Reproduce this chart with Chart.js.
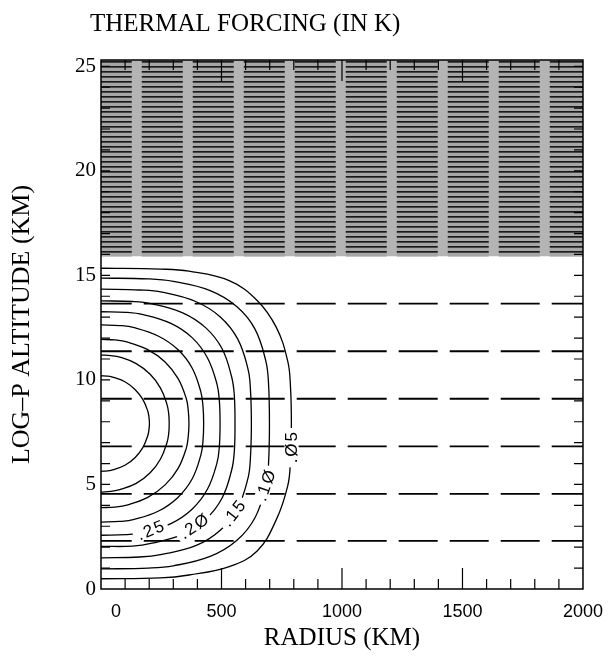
<!DOCTYPE html>
<html><head><meta charset="utf-8">
<script src="https://cdn.jsdelivr.net/npm/chart.js@4.4.1/dist/chart.umd.min.js"></script>
<style>html,body{margin:0;padding:0;background:#fff;}#wrap{width:615px;height:661px;}</style>
</head><body><div id="wrap"><canvas id="c" width="615" height="661"></canvas></div>
<script>
// ---- data ----
const titleText = 'THERMAL FORCING (IN K)';
const xTitle = 'RADIUS (KM)';
const yTitle = 'LOG–P ALTITUDE (KM)';
const xTickLabels = [0, 500, 1000, 1500, 2000];
const yTickLabels = [0, 5, 10, 15, 20, 25];
const xMinorTicks = [100,200,300,400,600,700,800,900,1100,1200,1300,1400,1600,1700,1800,1900];
const xMajorTicks = [500, 1000, 1500];
const yMinorTicks = [1,2,3,4,5,6,7,8,9,10,11,12,13,14,15,16,17,18,19,20,21,22,23,24,25];
const modelLevels = [2.3, 4.55, 6.82, 9.1, 11.37, 13.65];
const spongeBase = 15.92;
const spongeTop = 25.3;

const c45 = [[0,10.20],[26,10.18],[52,10.12],[101,9.90],[142,9.53],[174,9.06],[194,8.51],[199,8.22],[201,7.91],[199,7.61],[194,7.33],[174,6.77],[142,6.29],[101,5.93],[52,5.71],[26,5.65],[0,5.63]];
const c40 = [[0,11.19],[41,11.16],[78,11.09],[146,10.78],[204,10.27],[247,9.61],[274,8.82],[281,8.39],[283,7.91],[281,7.44],[274,7.01],[247,6.22],[204,5.56],[146,5.05],[78,4.75],[41,4.67],[0,4.63]];
const c35 = [[0,11.94],[57,11.91],[107,11.82],[194,11.45],[266,10.86],[320,10.06],[354,9.10],[362,8.55],[365,7.91],[362,7.29],[354,6.74],[320,5.77],[266,4.98],[194,4.38],[107,4.01],[57,3.92],[0,3.89]];
const c30 = [[0,12.63],[78,12.60],[138,12.50],[239,12.09],[319,11.45],[378,10.57],[414,9.44],[423,8.77],[426,7.91],[423,7.05],[414,6.39],[378,5.26],[319,4.38],[239,3.73],[138,3.33],[78,3.23],[0,3.20]];
const c25 = [[0,13.26],[103,13.23],[175,13.12],[290,12.70],[379,12.01],[442,11.05],[481,9.81],[491,9.03],[494,7.91],[491,6.80],[481,6.02],[442,4.78],[379,3.83],[290,3.13],[175,2.71],[103,2.60],[0,2.57]];
const c20 = [[0,13.78],[130,13.75],[212,13.64],[339,13.21],[434,12.50],[502,11.50],[542,10.15],[553,9.29],[556,7.91],[553,6.55],[542,5.68],[502,4.34],[434,3.33],[339,2.61],[212,2.19],[130,2.05],[0,2.04]];
const c15 = [[0,14.34],[160,14.30],[253,14.20],[393,13.75],[495,13.01],[567,11.96],[610,10.52],[620,9.56],[624,7.91],[620,6.26],[610,5.30],[567,3.87],[495,2.81],[393,2.07],[253,1.66],[160,1.53],[0,1.49]];
const c10 = [[0,14.87],[196,14.83],[300,14.71],[453,14.27],[563,13.51],[639,12.43],[684,10.90],[695,9.86],[699,7.91],[695,5.97],[684,4.93],[639,3.41],[563,2.32],[453,1.56],[300,1.11],[196,1.00],[0,0.96]];
const c05 = [[0,15.34],[247,15.30],[365,15.20],[532,14.75],[648,13.80],[728,12.50],[775,10.89],[786,9.73],[790,7.91],[786,6.10],[775,4.94],[728,3.33],[648,1.82],[532,1.07],[365,0.67],[247,0.53],[0,0.49]];
const contours = [c45, c40, c35, c30, c25, c20, c15, c10, c05];

const labelText = ['.25', '.2Ø', '.15', '.1Ø', '.Ø5'];
const labelR = [205, 385, 549, 682, 791];
const labelZ = [2.82, 3.0, 3.62, 4.95, 6.76];
const labelAngle = [-22, -34, -52, -71, -90];

// ---- styling helpers ----
function makeHatch() {
  const t = document.createElement('canvas');
  t.width = 51; t.height = 5;
  const g = t.getContext('2d');
  g.fillStyle = '#b4b4b4'; g.fillRect(0, 0, 51, 5);
  g.fillStyle = '#a6a6a6'; g.fillRect(10, 0, 41, 5);
  g.fillStyle = '#1a1a1a'; g.fillRect(10, 0, 41, 1);
  g.fillStyle = '#4a4a4a'; g.fillRect(10, 1, 41, 1);
  const p = g.createPattern(t, 'repeat');
  p.setTransform(new DOMMatrix().translate(29.7, 1));
  return p;
}

const datasets = [];
datasets.push({
  data: [{x: 0, y: spongeTop}, {x: 2000, y: spongeTop}],
  showLine: true, borderWidth: 0, pointRadius: 0,
  backgroundColor: makeHatch(), fill: {value: spongeBase}, order: 3
});
modelLevels.forEach(z => datasets.push({
  data: [{x: 0, y: z}, {x: 2000, y: z}],
  showLine: true, borderColor: '#000', borderWidth: 1.8, pointRadius: 0,
  borderDash: [39, 12], borderDashOffset: 8.3, fill: false, order: 2
}));
contours.forEach(c => datasets.push({
  data: c.map(p => ({x: p[0], y: p[1]})),
  showLine: true, borderColor: '#000', borderWidth: 1.3, pointRadius: 0,
  tension: 0.4, fill: false, order: 1
}));

const decor = {
  id: 'decor',
  afterDatasetsDraw(chart) {
    const {ctx, chartArea: a, scales: {x, y}} = chart;
    ctx.save();
    // contour labels
    ctx.font = '17px "Liberation Sans"';
    ctx.letterSpacing = '2px';
    ctx.textAlign = 'center';
    ctx.textBaseline = 'middle';
    labelText.forEach((t, i) => {
      const px = x.getPixelForValue(labelR[i]);
      const py = y.getPixelForValue(labelZ[i]);
      ctx.save();
      ctx.translate(px, py);
      ctx.rotate(labelAngle[i] * Math.PI / 180);
      const w = ctx.measureText(t).width;
      ctx.fillStyle = '#fff';
      ctx.fillRect(-w / 2 - 3, -7, w + 6, 14);
      ctx.fillStyle = '#000';
      ctx.fillText(t, 1, 1);
      ctx.restore();
    });
    ctx.letterSpacing = '0px';
    // frame
    ctx.strokeStyle = '#000';
    ctx.lineWidth = 1.5;
    ctx.strokeRect(a.left, a.top, a.right - a.left, a.bottom - a.top);
    // inward ticks
    ctx.lineWidth = 1.2;
    ctx.beginPath();
    xMinorTicks.forEach(v => {
      const px = x.getPixelForValue(v);
      ctx.moveTo(px, a.bottom); ctx.lineTo(px, a.bottom - 10);
      ctx.moveTo(px, a.top); ctx.lineTo(px, a.top + 10);
    });
    xMajorTicks.forEach(v => {
      const px = x.getPixelForValue(v);
      ctx.moveTo(px, a.bottom); ctx.lineTo(px, a.bottom - 21);
      ctx.moveTo(px, a.top); ctx.lineTo(px, a.top + 21);
    });
    yMinorTicks.forEach(v => {
      const py = y.getPixelForValue(v);
      ctx.moveTo(a.left, py); ctx.lineTo(a.left + 9, py);
      ctx.moveTo(a.right, py); ctx.lineTo(a.right - 9, py);
    });
    ctx.stroke();
    // title
    ctx.font = '25px "Liberation Serif"';
    ctx.fillStyle = '#000';
    ctx.textAlign = 'left';
    ctx.textBaseline = 'alphabetic';
    ctx.fillText(titleText, 90, 31);
    ctx.restore();
  }
};

new Chart(document.getElementById('c'), {
  type: 'scatter',
  data: {datasets},
  options: {
    responsive: false, animation: false, devicePixelRatio: 1,
    layout: {padding: {top: 60, right: 26, left: 0, bottom: 0}},
    plugins: {legend: {display: false}, tooltip: {enabled: false}, title: {display: false}},
    scales: {
      x: {
        type: 'linear', min: 0, max: 2000,
        afterBuildTicks: s => { s.ticks = xTickLabels.map(v => ({value: v})); },
        ticks: {autoSkip: false, maxRotation: 0, color: '#000', padding: 12,
          font: {family: 'Liberation Sans', size: 18},
          callback: v => v === 0 ? '      0' : String(v)},
        grid: {display: false, drawTicks: false}, border: {display: false},
        title: {display: true, text: xTitle, color: '#000',
          font: {family: 'Liberation Serif', size: 25}, padding: {top: 0, bottom: 8}},
        afterFit: s => { s.height = 72; }
      },
      y: {
        type: 'linear', min: 0, max: spongeTop,
        afterBuildTicks: s => { s.ticks = yTickLabels.map(v => ({value: v})); },
        ticks: {color: '#000', padding: 5, font: {family: 'Liberation Serif', size: 21}},
        grid: {display: false, drawTicks: false}, border: {display: false},
        title: {display: true, text: yTitle, color: '#000',
          font: {family: 'Liberation Serif', size: 26}, padding: {top: 7, bottom: 0}},
        afterFit: s => { s.width = 101; }
      }
    }
  },
  plugins: [decor]
});
</script></body></html>
